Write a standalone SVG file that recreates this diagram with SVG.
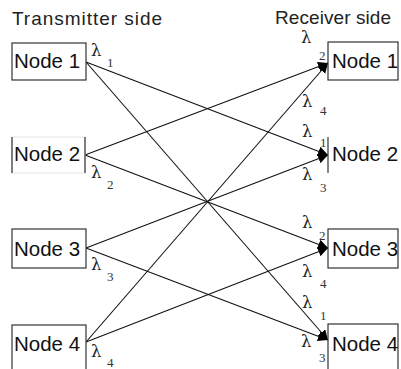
<svg xmlns="http://www.w3.org/2000/svg" width="401" height="369" viewBox="0 0 401 369">
  <style>
    .title { font-family: "Liberation Sans", Arial, sans-serif; font-size: 19px; fill: #222; }
    .label { font-family: "Liberation Sans", Arial, sans-serif; font-size: 20.5px; fill: #111; }
    .box { fill: #fff; stroke: #333; stroke-width: 1.2; }
    .edge { fill: none; stroke: #333; stroke-width: 1.2; }
    .wire { fill: none; stroke: #111; stroke-width: 1.1; }
    .lam { font-family: "DejaVu Serif", "Liberation Serif", serif; font-size: 16.5px; fill: #222; }
    .sub { font-family: "Liberation Serif", "Times New Roman", serif; font-size: 13px; fill: #333; }
  </style>
  <defs>
    <marker id="arrow" markerUnits="userSpaceOnUse" markerWidth="12" markerHeight="12" refX="10" refY="5" orient="auto">
      <path d="M0,0 L10,5 L0,10 Z" fill="#000"/>
    </marker>
  </defs>
  <rect width="401" height="369" fill="#fff"/>

  <text class="title" x="12" y="25" textLength="150">Transmitter side</text>
  <text class="title" x="275" y="24" textLength="116">Receiver side</text>

  <!-- wavelength paths from transmitters to receivers -->
  <g id="connectors">
    <line class="wire" x1="86" y1="62" x2="328" y2="155" marker-end="url(#arrow)"/>
    <line class="wire" x1="86" y1="62" x2="328" y2="340" marker-end="url(#arrow)"/>
    <line class="wire" x1="85" y1="155" x2="328" y2="63" marker-end="url(#arrow)"/>
    <line class="wire" x1="85" y1="155" x2="328" y2="248" marker-end="url(#arrow)"/>
    <line class="wire" x1="86" y1="248" x2="328" y2="155" marker-end="url(#arrow)"/>
    <line class="wire" x1="86" y1="248" x2="328" y2="340" marker-end="url(#arrow)"/>
    <line class="wire" x1="86" y1="342" x2="328" y2="63" marker-end="url(#arrow)"/>
    <line class="wire" x1="86" y1="342" x2="328" y2="248" marker-end="url(#arrow)"/>
  </g>

  <!-- transmitter nodes -->
  <g id="tx-node1">
    <rect class="box" x="12" y="43" width="74" height="37"/>
    <text class="label" x="14" y="68">Node 1</text>
    <text class="lam" x="91" y="56">λ</text>
    <text class="sub" x="107" y="67">1</text>
  </g>
  <g id="tx-node2">
    <rect x="12" y="137" width="73" height="36" fill="#fff" stroke="#e4e4e4" stroke-width="1"/>
    <path class="edge" d="M12,137 V173 M85,137 V173"/>
    <text class="label" x="14" y="161">Node 2</text>
    <text class="lam" x="91" y="178">λ</text>
    <text class="sub" x="107" y="189">2</text>
  </g>
  <g id="tx-node3">
    <rect class="box" x="12" y="229" width="74" height="39"/>
    <text class="label" x="14" y="256">Node 3</text>
    <text class="lam" x="91" y="270">λ</text>
    <text class="sub" x="107" y="281">3</text>
  </g>
  <g id="tx-node4">
    <rect class="box" x="12" y="325" width="74" height="60"/>
    <text class="label" x="14" y="351">Node 4</text>
    <text class="lam" x="91" y="357">λ</text>
    <text class="sub" x="107" y="367">4</text>
  </g>

  <!-- receiver nodes -->
  <g id="rx-node1">
    <rect class="box" x="328" y="42" width="70" height="38"/>
    <text class="label" x="332" y="68">Node 1</text>
    <text class="lam" x="301" y="43">λ</text>
    <text class="sub" x="319" y="60">2</text>
    <text class="lam" x="302" y="107">λ</text>
    <text class="sub" x="320" y="115">4</text>
  </g>
  <g id="rx-node2">
    <path class="edge" d="M328,137 V173"/>
    <text class="label" x="332" y="161">Node 2</text>
    <text class="lam" x="302" y="137">λ</text>
    <text class="sub" x="320" y="147">1</text>
    <text class="lam" x="302" y="180">λ</text>
    <text class="sub" x="320" y="192">3</text>
  </g>
  <g id="rx-node3">
    <rect class="box" x="328" y="229" width="70" height="39" stroke="#666"/>
    <text class="label" x="332" y="256">Node 3</text>
    <text class="lam" x="302" y="228">λ</text>
    <text class="sub" x="319" y="240">2</text>
    <text class="lam" x="302" y="277">λ</text>
    <text class="sub" x="320" y="288">4</text>
  </g>
  <g id="rx-node4">
    <rect class="box" x="328" y="324" width="70" height="60" stroke="#666"/>
    <text class="label" x="332" y="351">Node 4</text>
    <text class="lam" x="302" y="308">λ</text>
    <text class="sub" x="320" y="320">1</text>
    <text class="lam" x="301" y="347">λ</text>
    <text class="sub" x="319" y="362">3</text>
  </g>
</svg>
